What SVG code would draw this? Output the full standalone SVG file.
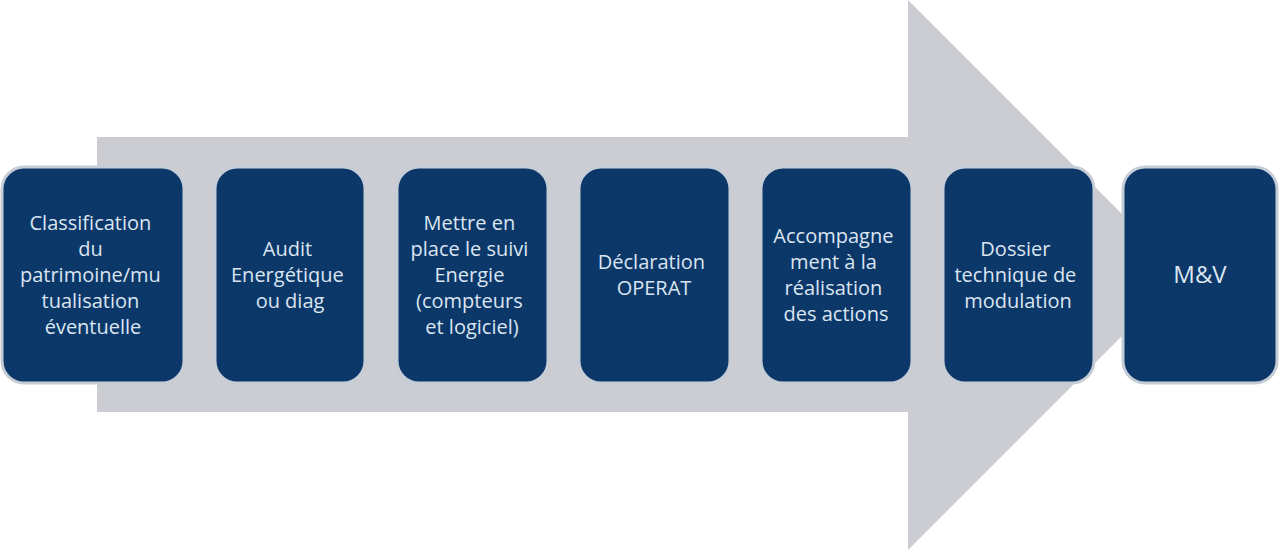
<svg xmlns="http://www.w3.org/2000/svg" width="1280" height="550" viewBox="0 0 1280 550">
  <style>
    .box { fill: #0b3869; stroke: #c6cdd7; stroke-width: 3; }
    .lbl { font-family: "Open Sans", "Liberation Sans", sans-serif; font-size: 20px; fill: #dbe5f1; text-anchor: middle; }
    .big { font-size: 24px; }
  </style>
  <rect width="1280" height="550" fill="#ffffff"/>
  <g id="connectors">
    <polygon id="arrow" points="97,137 908,137 908,0 1183,275 908,550 908,412 97,412" fill="#cbcdd2"/>
  </g>
  <g id="n1">
    <rect class="box" x="2" y="167" width="182" height="216" rx="22"/>
    <text class="lbl" x="93">
      <tspan x="93" y="230">Classification</tspan>
      <tspan x="93" y="256">du</tspan>
      <tspan x="93" y="282">patrimoine/mu</tspan>
      <tspan x="93" y="308">tualisation</tspan>
      <tspan x="93" y="334">éventuelle</tspan>
    </text>
  </g>
  <g id="n2">
    <rect class="box" x="215" y="167" width="150" height="216" rx="22"/>
    <text class="lbl">
      <tspan x="290" y="256">Audit</tspan>
      <tspan x="290" y="282">Energétique</tspan>
      <tspan x="290" y="308">ou diag</tspan>
    </text>
  </g>
  <g id="n3">
    <rect class="box" x="397" y="167" width="151" height="216" rx="22"/>
    <text class="lbl">
      <tspan x="472" y="230">Mettre en</tspan>
      <tspan x="472" y="256">place le suivi</tspan>
      <tspan x="472" y="282">Energie</tspan>
      <tspan x="472" y="308">(compteurs</tspan>
      <tspan x="472" y="334">et logiciel)</tspan>
    </text>
  </g>
  <g id="n4">
    <rect class="box" x="579" y="167" width="151" height="216" rx="22"/>
    <text class="lbl">
      <tspan x="654" y="269">Déclaration</tspan>
      <tspan x="654" y="295">OPERAT</tspan>
    </text>
  </g>
  <g id="n5">
    <rect class="box" x="761" y="167" width="151" height="216" rx="22"/>
    <text class="lbl">
      <tspan x="836" y="243">Accompagne</tspan>
      <tspan x="836" y="269">ment à la</tspan>
      <tspan x="836" y="295">réalisation</tspan>
      <tspan x="836" y="321">des actions</tspan>
    </text>
  </g>
  <g id="n6">
    <rect class="box" x="943" y="167" width="151" height="216" rx="22"/>
    <text class="lbl">
      <tspan x="1018" y="256">Dossier</tspan>
      <tspan x="1018" y="282">technique de</tspan>
      <tspan x="1018" y="308">modulation</tspan>
    </text>
  </g>
  <g id="n7">
    <rect class="box" x="1123" y="167" width="154" height="216" rx="22"/>
    <text class="lbl big" x="1200" y="283">M&amp;V</text>
  </g>
</svg>
